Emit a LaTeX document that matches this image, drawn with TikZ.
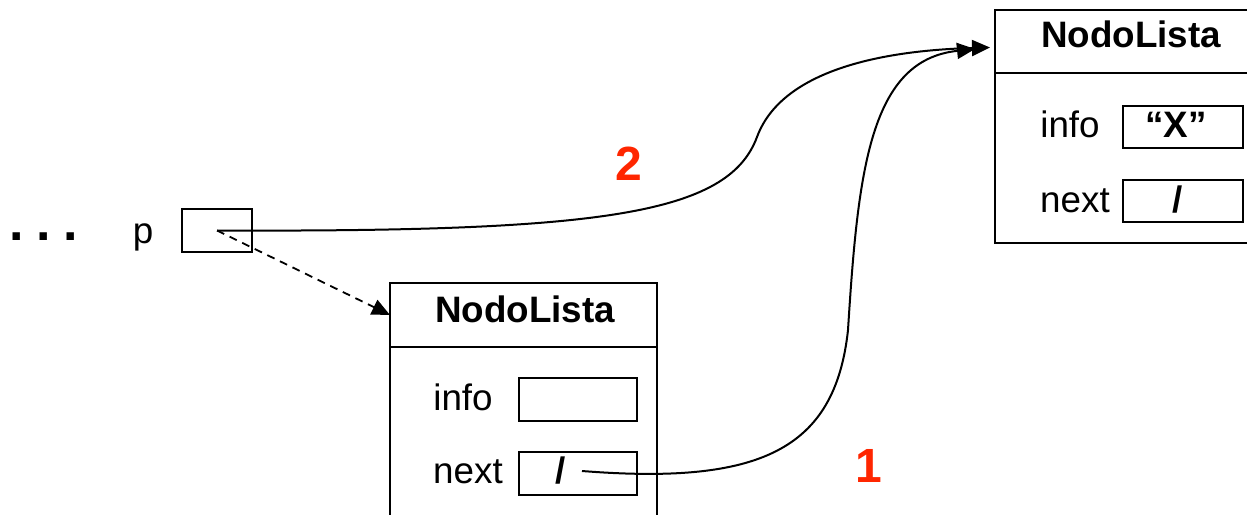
\documentclass[tikz,border=0pt]{standalone}
\usepackage{fontspec}
\setmainfont{Liberation Sans}
\usetikzlibrary{arrows.meta}
\definecolor{stepred}{RGB}{255,38,0}
\begin{document}
\begin{tikzpicture}[x=0.5pt,y=-0.5pt,
  line width=1pt,
  frame/.style={draw, inner sep=0pt, outer sep=0pt},
  field/.style={frame, minimum width=59pt, minimum height=21.5pt},
  lbl/.style={anchor=base, inner sep=0pt, font=\fontsize{18.4pt}{22pt}\selectfont},
  title/.style={lbl, font=\fontsize{18.4pt}{22pt}\selectfont\bfseries},
  stepnum/.style={anchor=base, inner sep=0pt, text=stepred, font=\fontsize{24pt}{28pt}\selectfont\bfseries},
  ptr/.style={-{Triangle[length=9pt,width=8pt]}, line width=1pt},
  dptr/.style={ptr, line width=0.9pt, dash pattern=on 4pt off 3pt}]
\path[use as bounding box, clip] (0,0) rectangle (1247,514);

% pointer variable p
\node[lbl, font=\fontsize{26pt}{30pt}\selectfont\bfseries] (dots) at (44,240) {.\hspace{6.2pt}.\hspace{6.2pt}.};
\node[lbl] (plabel) at (143,243) {p};
\node[frame, minimum width=35pt, minimum height=21.5pt] (pbox) at (217,230.5) {};

% first list node (bottom, open at the lower edge)
\node[frame, minimum width=133.5pt, minimum height=32pt] (n1head) at (523.5,315) {};
\node[frame, minimum width=133.5pt, minimum height=96.5pt] (n1body) at (523.5,443.5) {};
\node[title] (n1title) at (525,322) {NodoLista};
\node[lbl] (n1infolbl) at (463,410) {info};
\node[field] (n1info) at (578,399.5) {};
\node[lbl] (n1nextlbl) at (468,483) {next};
\node[field] (n1next) at (578,473) {};
\node[title] (n1slash) at (561,483) {/};
\coordinate (n1ptr) at (582,471);

% second list node (top right, open past the right edge)
\node[frame, minimum width=135pt, minimum height=31.5pt] (n2head) at (1130,41.5) {};
\node[frame, minimum width=135pt, minimum height=85pt] (n2body) at (1130,158) {};
\node[title] (n2title) at (1131,47) {NodoLista};
\node[lbl] (n2infolbl) at (1070,137) {info};
\node[field, minimum width=60pt, minimum height=21pt] (n2info) at (1183,127) {};
\node[title] (n2x) at (1176,137) {“X”};
\node[lbl] (n2nextlbl) at (1075,212) {next};
\node[field, minimum width=60pt, minimum height=21pt] (n2next) at (1183,201) {};
\node[title] (n2slash) at (1178,212) {/};
\coordinate (n2in) at (975,49);

% step numbers
\node[stepnum] (s2) at (629,180) {2};
\node[stepnum] (s1) at (869,482) {1};

% connectors
\draw[dptr] (pbox.center) -- (n1head.west);
\draw[ptr] (pbox.center) .. controls (600,232) and (728,215) .. (757,137)
  .. controls (784,64) and (900,50) .. ([shift={(-5,6)}]n2head.west);
\draw[ptr] (n1ptr) .. controls (760,485) and (835,450) .. (848,330)
  .. controls (858,170) and (870,60) .. (n2in);
\end{tikzpicture}
\end{document}
